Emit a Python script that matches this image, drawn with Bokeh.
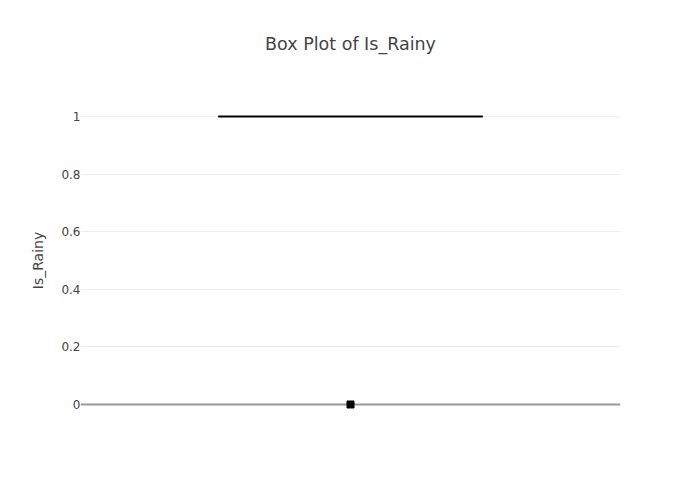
from bokeh.plotting import figure
from bokeh.models import Range1d, FactorRange, FixedTicker, ColumnDataSource, Title
from bokeh.embed import file_html
from bokeh.resources import INLINE

# Data
categories = ["Is_Rainy"]
q1 = [1.0]
median = [1.0]
q3 = [1.0]
lower_whisker = [1.0]
upper_whisker = [1.0]
outlier_cat = ["Is_Rainy"]
outlier_vals = [0.0]
y_ticks = [0, 0.2, 0.4, 0.6, 0.8, 1]
y_tick_labels = ["0", "0.2", "0.4", "0.6", "0.8", "1"]
title_text = "Box Plot of Is_Rainy"

FONT = "DejaVu Sans"

p = figure(width=700, height=500, output_backend="svg", toolbar_location=None,
           x_range=FactorRange(*categories), y_range=Range1d(-0.0556, 1.0556),
           min_border_left=80, min_border_right=80, min_border_top=100, min_border_bottom=80,
           title=title_text)
p.outline_line_color = None
p.background_fill_color = "white"
p.border_fill_color = "white"

p.title.align = "center"
p.title.text_font = FONT
p.title.text_font_size = "17.5px"
p.title.text_font_style = "normal"
p.title.text_color = "#444444"
p.title.standoff = 0

# invisible spacer between title and frame
p.add_layout(Title(text=" ", text_font=FONT, text_font_size="17.5px", standoff=25), "above")

p.xaxis.visible = False
p.xgrid.visible = False

ya = p.yaxis[0]
ya.ticker = FixedTicker(ticks=y_ticks)
ya.major_label_overrides = {t: l for t, l in zip(y_ticks, y_tick_labels)}
ya.axis_line_color = None
ya.major_tick_line_color = None
ya.minor_tick_line_color = None
ya.major_tick_out = 0
ya.major_tick_in = 0
ya.major_label_standoff = 0
ya.major_label_text_font = FONT
ya.major_label_text_font_size = "12px"
ya.major_label_text_color = "#444444"
ya.axis_label = "Is_Rainy"
ya.axis_label_text_font = FONT
ya.axis_label_text_font_size = "14px"
ya.axis_label_text_font_style = "normal"
ya.axis_label_text_color = "#444444"
ya.axis_label_standoff = 12

p.ygrid.ticker = FixedTicker(ticks=[t for t in y_ticks if t != 0])
p.ygrid.grid_line_color = "#eeeeee"
p.ygrid.grid_line_width = 1

# zero line
p.hspan(y=[0], line_color="#999999", line_width=2)

src = ColumnDataSource(dict(cat=categories, q1=q1, q3=q3, med=median,
                            lw=lower_whisker, uw=upper_whisker))
# whiskers
p.segment(x0="cat", x1="cat", y0="lw", y1="q1", source=src, line_color="black", line_width=2)
p.segment(x0="cat", x1="cat", y0="q3", y1="uw", source=src, line_color="black", line_width=2)
# box
p.vbar(x="cat", width=0.49, top="q3", bottom="q1", source=src,
       fill_color="black", fill_alpha=0.5, line_color="black", line_width=2)
# median
p.rect(x="cat", y="med", width=0.49, height=0, source=src, line_color="black", line_width=2, fill_alpha=0)
# outliers
p.scatter(x=outlier_cat, y=outlier_vals, marker="square", size=7, color="black")

open("out.html", "w").write(file_html(p, INLINE))
